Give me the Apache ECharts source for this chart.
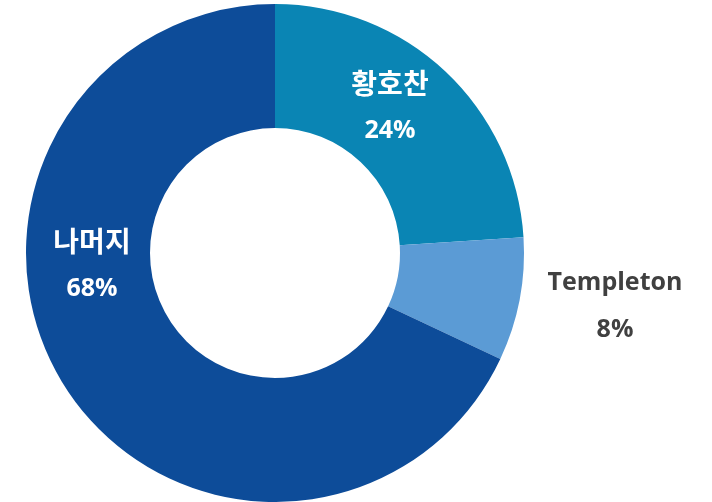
<!DOCTYPE html>
<html><head><meta charset="utf-8">
<script src="https://cdn.jsdelivr.net/npm/echarts@6/dist/echarts.min.js"></script>
<style>html,body{margin:0;padding:0;background:#fff}#c{width:712px;height:502px}</style>
</head><body><div id="c"></div>
<script>
const names = ['황호찬', 'Templeton', '나머지'];
const values = [24, 8, 68];
const colors = ['#0A85B4', '#5B9BD5', '#0D4C99'];
const labelColors = ['#ffffff', '#404040', '#ffffff'];
const nameSizes = [28, 25, 28];
const labelPos = [[390, 107], [615, 306], [92, 265]];

const chart = echarts.init(document.getElementById('c'));
chart.setOption({
  animation: false,
  series: [{
    type: 'pie',
    center: [275, 253],
    radius: [125, 249],
    startAngle: 90,
    clockwise: true,
    silent: true,
    labelLine: { show: false },
    label: {
      show: true,
      position: 'inside',
      formatter: p => '{n' + p.dataIndex + '|' + p.name + '}\n{p|' + p.value + '%}',
      fontFamily: 'Open Sans, Noto Sans CJK KR, sans-serif',
      fontWeight: 'bold',
      fontSize: 25,
      lineHeight: 47,
      align: 'center',
      verticalAlign: 'middle',
      rich: {
        n0: { fontSize: nameSizes[0], lineHeight: 47, fontWeight: 'bold', fontFamily: 'Noto Sans CJK KR, sans-serif' },
        n1: { fontSize: nameSizes[1], lineHeight: 47, fontWeight: 'bold', fontFamily: 'Open Sans, sans-serif' },
        n2: { fontSize: nameSizes[2], lineHeight: 47, fontWeight: 'bold', fontFamily: 'Noto Sans CJK KR, sans-serif' },
        p: { fontSize: 25, lineHeight: 47, fontWeight: 'bold', fontFamily: 'Open Sans, sans-serif' }
      }
    },
    labelLayout: function (params) {
      const p = labelPos[params.dataIndex];
      return { x: p[0], y: p[1], align: 'center', verticalAlign: 'middle' };
    },
    data: names.map((n, i) => ({
      name: n, value: values[i],
      itemStyle: { color: colors[i] },
      label: { color: labelColors[i] }
    }))
  }]
});
</script></body></html>
